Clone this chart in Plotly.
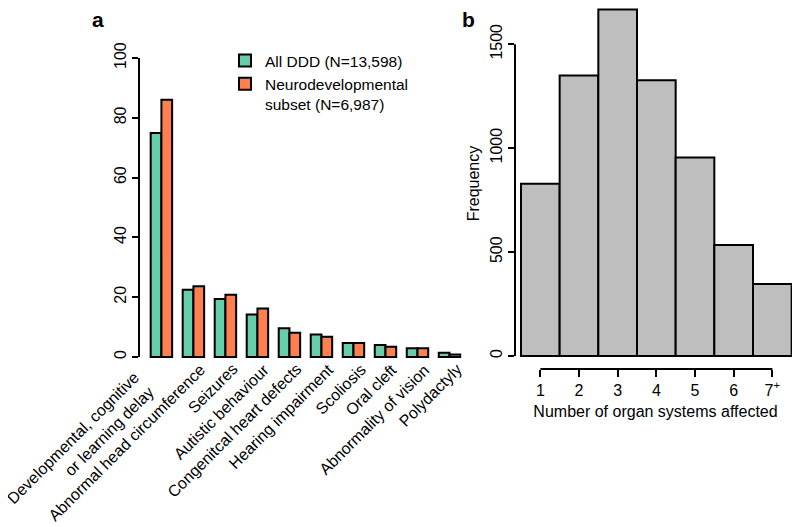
import plotly.graph_objects as go

# ---- Data ----
categories = [
    "Developmental, cognitive<br>or learning delay",
    "Abnormal head circumference",
    "Seizures",
    "Autistic behaviour",
    "Congenitcal heart defects",
    "Hearing impairment",
    "Scoliosis",
    "Oral cleft",
    "Abnormality of vision",
    "Polydactyly",
]
all_ddd = [74.9, 22.5, 19.4, 14.2, 9.6, 7.5, 4.7, 4.0, 2.9, 1.4]
neuro_subset = [86.0, 23.7, 20.8, 16.2, 8.1, 6.8, 4.7, 3.4, 2.9, 0.8]
series_names = ["All DDD (N=13,598)", "Neurodevelopmental<br>subset (N=6,987)"]

organ_counts = [1, 2, 3, 4, 5, 6, 7]
organ_labels = ["1", "2", "3", "4", "5", "6", "7<sup>+</sup>"]
organ_freq = [829, 1349, 1667, 1326, 955, 534, 346]

# page has an 8px body margin: figure is sized to fit inside the window
OFF = 8
W, H = 800 - OFF, 527 - OFF
FONT = "Liberation Sans, Arial, Helvetica, sans-serif"

def px_x(p):
    return min(1.0, max(0.0, (p - OFF) / W))

def px_y(p):
    return min(1.0, max(0.0, 1 - (p - OFF) / H))

fig = go.Figure()
fig.add_trace(go.Bar(x=categories, y=all_ddd, name=series_names[0],
                     marker=dict(color="#66CDAA", line=dict(color="black", width=2)),
                     xaxis="x", yaxis="y"))
fig.add_trace(go.Bar(x=categories, y=neuro_subset, name=series_names[1],
                     marker=dict(color="#FF7F50", line=dict(color="black", width=2)),
                     xaxis="x", yaxis="y"))
fig.add_trace(go.Bar(x=organ_counts, y=organ_freq, width=1, showlegend=False,
                     marker=dict(color="#BEBEBE", line=dict(color="black", width=2)),
                     xaxis="x2", yaxis="y2"))

tickfont = dict(family=FONT, size=16, color="black")

# category labels as rotated annotations (right-aligned lines like the original)
label_ann = []
for i, cat in enumerate(categories):
    if "<br>" in cat:
        xs, yp = -1, 365.5
    else:
        xs, yp = 18, 358
    label_ann.append(dict(text=cat, x=cat, xref="x", y=px_y(yp), yref="paper",
                          xanchor="right", yanchor="top", xshift=xs, textangle=-45,
                          align="right", showarrow=False, font=tickfont))

fig.update_layout(
    width=W, height=H,
    margin=dict(l=0, r=0, t=0, b=0, autoexpand=False),
    paper_bgcolor="white", plot_bgcolor="white",
    font=dict(family=FONT, size=16, color="black"),
    barmode="group", bargap=0.33, bargroupgap=0,
    showlegend=True,
    legend=dict(x=px_x(225), y=px_y(44), xanchor="left", yanchor="top",
                font=dict(family=FONT, size=15.5, color="black"),
                bgcolor="rgba(0,0,0,0)", valign="top", tracegroupgap=2),
    xaxis=dict(domain=[px_x(139), px_x(465.5)], range=[-0.7, 9.5],
               showline=False, showgrid=False, zeroline=False, ticks="",
               showticklabels=False, automargin=False, anchor="y"),
    yaxis=dict(domain=[px_y(360), px_y(52)], range=[-1, 102],
               tickvals=[0, 20, 40, 60, 80, 100], ticks="outside", ticklen=6,
               tickwidth=2, tickcolor="black", tickangle=-90, tickfont=tickfont,
               showline=False, showgrid=False, zeroline=False, automargin=False,
               anchor="x"),
    xaxis2=dict(domain=[px_x(515), px_x(796)], range=[0.345, 7.612],
                tickvals=organ_counts, ticktext=organ_labels,
                ticks="outside", ticklen=7, tickwidth=2, tickcolor="black",
                tickfont=tickfont, showline=False, showgrid=False, zeroline=False,
                anchor="free", position=px_y(369), automargin=False,
                title=dict(text="Number of organ systems affected",
                           font=dict(family=FONT, size=16, color="black"), standoff=7)),
    yaxis2=dict(domain=[px_y(359.1), 1.0], range=[-14.9, 1674],
                tickvals=[0, 500, 1000, 1500], ticks="outside", ticklen=6,
                tickwidth=2, tickcolor="black", tickangle=-90, tickfont=tickfont,
                showline=False, showgrid=False, zeroline=False, anchor="x2",
                automargin=False,
                title=dict(text="Frequency",
                           font=dict(family=FONT, size=16, color="black"), standoff=3)),
    shapes=[
        dict(type="line", xref="x domain", yref="y", x0=0, x1=0, y0=0, y1=100,
             line=dict(color="black", width=2)),
        dict(type="line", xref="x2 domain", yref="y2", x0=0, x1=0, y0=0, y1=1500,
             line=dict(color="black", width=2)),
        dict(type="line", xref="x2", yref="paper", x0=1, x1=7,
             y0=px_y(369), y1=px_y(369), line=dict(color="black", width=2)),
    ],
    annotations=[
        dict(text="<b>a</b>", x=px_x(98), y=px_y(20), xref="paper", yref="paper",
             xanchor="center", yanchor="middle",
             showarrow=False, font=dict(family=FONT, size=21, color="black")),
        dict(text="<b>b</b>", x=px_x(468), y=px_y(20), xref="paper", yref="paper",
             xanchor="center", yanchor="middle",
             showarrow=False, font=dict(family=FONT, size=21, color="black")),
    ] + label_ann,
)

fig.write_html("out.html")
